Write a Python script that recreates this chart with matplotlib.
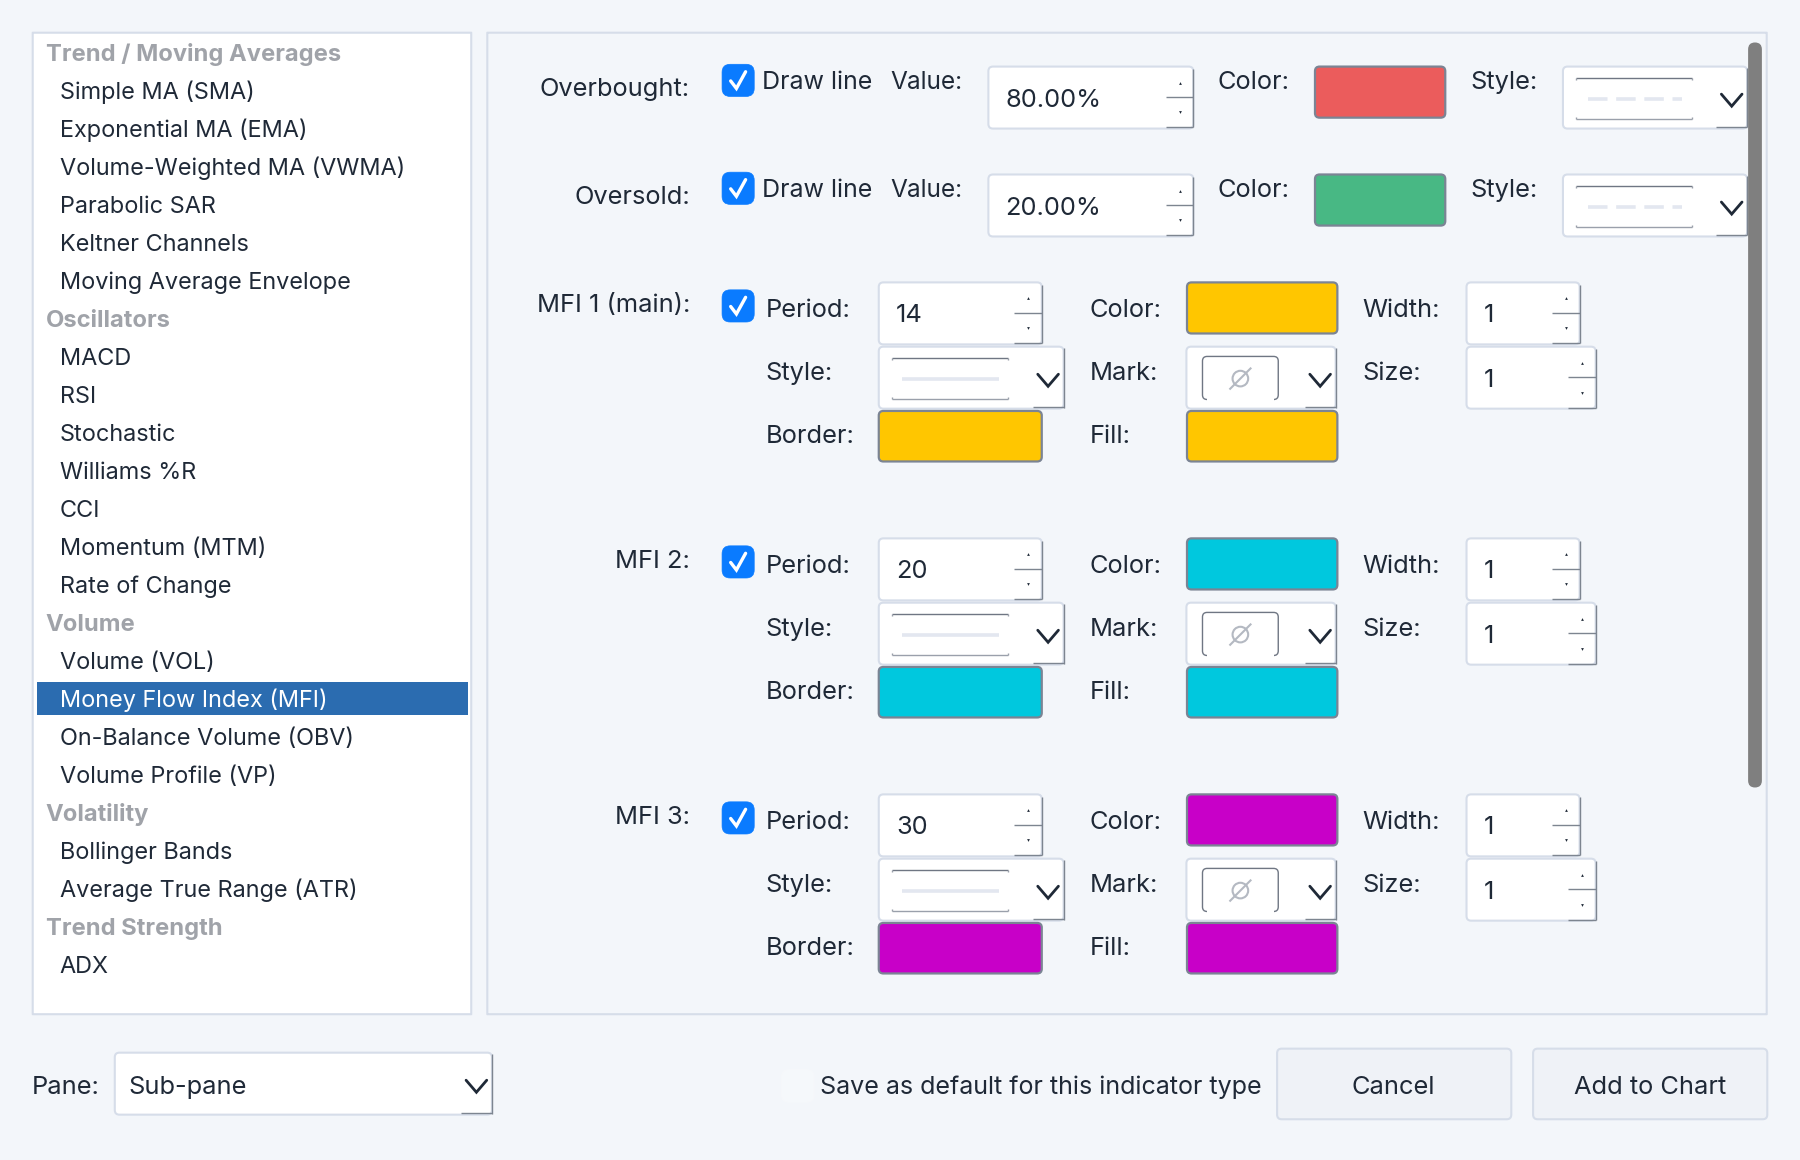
import matplotlib
matplotlib.use('Agg')
import matplotlib.pyplot as plt
from matplotlib.patches import FancyBboxPatch, Rectangle, Circle

# list on the left
groups = ['Trend / Moving Averages', 'Oscillators', 'Volume', 'Volatility', 'Trend Strength']
group_items = [
    ['Simple MA (SMA)', 'Exponential MA (EMA)', 'Volume-Weighted MA (VWMA)', 'Parabolic SAR',
     'Keltner Channels', 'Moving Average Envelope'],
    ['MACD', 'RSI', 'Stochastic', 'Williams %R', 'CCI', 'Momentum (MTM)', 'Rate of Change'],
    ['Volume (VOL)', 'Money Flow Index (MFI)', 'On-Balance Volume (OBV)', 'Volume Profile (VP)'],
    ['Bollinger Bands', 'Average True Range (ATR)'],
    ['ADX'],
]
selected = 'Money Flow Index (MFI)'

# overbought / oversold
level_names = ['Overbought:', 'Oversold:']
level_values = ['80.00%', '20.00%']
level_colors = ['#eb5c5c', '#48b884']

# mfi rows
mfi_names = ['MFI 1 (main):', 'MFI 2:', 'MFI 3:']
mfi_periods = ['14', '20', '30']
mfi_widths = ['1', '1', '1']
mfi_sizes = ['1', '1', '1']
mfi_colors = ['#ffc600', '#00c8de', '#c800c8']

pane_value = 'Sub-pane'
save_label = 'Save as default for this indicator type'
buttons = ['Cancel', 'Add to Chart']

BG = '#f3f6fa'
EDGE = '#d6dde9'
INK = '#1f2937'
GREY = '#a0a3a9'
STEP = '#7d8590'
BLUE = '#0a7bff'
SWATCH = '#7b8494'

plt.rcParams['font.family'] = ['Inter', 'DejaVu Sans']
FS_LIST = 16.9
FS = 18.3

fig = plt.figure(figsize=(18, 11.6), dpi=100, facecolor=BG)
ax = fig.add_axes([0, 0, 1, 1])
ax.set_xlim(0, 1568)
ax.set_ylim(1010.5, 0)
ax.axis('off')


def box(x0, y0, x1, y1, fc='white', ec=EDGE, lw=1.5, r=4, z=2):
    p = FancyBboxPatch((x0 + r, y0 + r), x1 - x0 - 2 * r, y1 - y0 - 2 * r,
                       boxstyle='round,pad=%g,rounding_size=%g' % (r, r),
                       fc=fc, ec=ec, lw=lw, zorder=z)
    ax.add_patch(p)


def line(xs, ys, c=STEP, lw=1.0, z=3):
    ax.plot(xs, ys, color=c, lw=lw, zorder=z, solid_capstyle='butt')


def txt(x, y, s, ha='left', c=INK, weight='normal', fs=FS):
    # y is the middle of the capitals
    ax.text(x, y + 0.43 * fs, s, ha=ha, va='baseline', color=c, fontweight=weight, fontsize=fs, zorder=5)


def chevron(xc, y0, y1, half):
    ax.plot([xc - half, xc, xc + half], [y0, y1, y0], color=INK, lw=2.0, zorder=4,
            solid_joinstyle='miter', solid_capstyle='round')


def spin(x0, y0, x1, value, step=24):
    y1 = y0 + 54
    box(x0, y0, x1, y1)
    xs = x1 - step
    mid = y0 + 26.5
    bot = y0 + 53
    line([x1, x1], [y0 + 2, bot])
    line([xs, x1], [mid, mid])
    line([xs, x1], [bot, bot])
    xd = x1 - 12
    ax.plot([xd], [y0 + 14], marker='^', ms=2.0, mew=0, color=INK, zorder=4)
    ax.plot([xd], [y0 + 40], marker='v', ms=2.0, mew=0, color=INK, zorder=4)
    txt(x0 + 15, y0 + 27, value)


def combo(x0, y0, x1, preview, wchev=27):
    y1 = y0 + 54
    box(x0, y0, x1, y1)
    line([x1, x1], [y0 + 1, y1 - 1])
    line([x1 - wchev, x1], [y1 - 1.5, y1 - 1.5])
    chevron(x1 - 13.5, y0 + 24, y0 + 34.5, 9)
    if preview is None:
        return
    px0 = x0 + 11.5
    px1 = px0 + 101
    top = y0 + 10
    low = y0 + 46
    line([px0, px1], [top, top], c='#6f7683')
    line([px0, px1], [low, low], c='#9aa0ab')
    line([px0, px0], [top, top + 2], c='#9aa0ab')
    line([px0, px0], [low - 2, low], c='#9aa0ab')
    line([px1, px1], [top, top + 2], c='#9aa0ab')
    line([px1, px1], [low - 2, low], c='#9aa0ab')
    if preview == 'dash':
        ax.plot([px0 + 10, px1 - 9], [y0 + 28, y0 + 28], color='#e3e7f0', lw=2.6, zorder=3,
                dashes=(5.4, 2.4), dash_capstyle='butt')
    else:
        line([px0 + 9, px1 - 8], [y0 + 28, y0 + 28], c='#e3e7f0', lw=2.6)


def mark_combo(x0, y0, x1):
    combo(x0, y0, x1, None)
    box(x0 + 14, y0 + 8.5, x0 + 80, y0 + 46, fc='white', ec='#6f7683', lw=1.0, r=4, z=3)
    ax.add_patch(Rectangle((x0 + 18, y0 + 40), 58, 8, fc='white', ec='none', zorder=3.5))
    # "no marker" icon
    cx, cy = x0 + 47, y0 + 27.8
    ax.add_patch(Circle((cx, cy), 6.8, fc='none', ec='#b4b9c2', lw=1.5, zorder=4))
    line([cx - 9.5, cx + 9.5], [cy + 9.5, cy - 9.5], c='#b4b9c2', lw=1.5, z=4)


def check(x0, y0):
    box(x0, y0, x0 + 28, y0 + 28, fc=BLUE, ec=BLUE, lw=0.5, r=7)
    ax.plot([x0 + 7.5, x0 + 12.5, x0 + 20.5], [y0 + 14.5, y0 + 21, y0 + 6.5], color='white',
            lw=2.4, zorder=4, solid_capstyle='round', solid_joinstyle='miter')


# ---- left list
box(28.5, 28.5, 410.5, 883.5, r=0.1)
y = 45.5
pitch = 33.1
for g, items in zip(groups, group_items):
    txt(40, y, g, c=GREY, weight='bold', fs=17.1)
    y += pitch
    for it in items:
        if it == selected:
            ax.add_patch(Rectangle((32, y - 14.5), 376, 29.5, fc='#2b6cb0', ec='none', zorder=3))
            txt(52, y, it, c='white', fs=FS_LIST)
        else:
            txt(52, y, it, fs=FS_LIST)
        y += pitch

# ---- right panel
box(424.5, 28.5, 1539, 883.5, fc=BG, r=0.1)

for i in range(len(level_names)):
    top = 58 + 94 * i
    txt(601, top + 18, level_names[i], ha='right')
    check(629, top - 2)
    txt(664, top + 12, 'Draw line', fs=18.0)
    txt(776, top + 12, 'Value:', fs=17.6)
    spin(861, top, 1039.5, level_values[i])
    txt(1061, top + 12, 'Color:')
    box(1145.5, top, 1259, top + 44.5, fc=level_colors[i], ec=SWATCH, lw=1.6)
    txt(1280.5, top + 12, 'Style:')
    combo(1361.5, top, 1522, 'dash')

for i in range(len(mfi_names)):
    top = 246 + 223 * i
    txt(601, top + 18, mfi_names[i], ha='right')
    check(629, top + 6.5)
    txt(667, top + 22, 'Period:')
    spin(765.5, top, 907.5, mfi_periods[i])
    txt(949.5, top + 22, 'Color:')
    box(1034, top, 1165, top + 44.5, fc=mfi_colors[i], ec=SWATCH, lw=1.6)
    txt(1186.5, top + 22, 'Width:')
    spin(1277.5, top, 1376, mfi_widths[i])

    txt(667, top + 77.5, 'Style:')
    combo(765.5, top + 56, 926.5, 'solid')
    txt(949.5, top + 77.5, 'Mark:')
    mark_combo(1033.5, top + 56, 1163.5)
    txt(1186.5, top + 77.5, 'Size:')
    spin(1277.5, top + 56, 1390, mfi_sizes[i])

    txt(667, top + 132, 'Border:')
    box(765.5, top + 112, 907.5, top + 156, fc=mfi_colors[i], ec=SWATCH, lw=1.6)
    txt(949.5, top + 132, 'Fill:')
    box(1034, top + 112, 1165, top + 156, fc=mfi_colors[i], ec=SWATCH, lw=1.6)

# scrollbar sits over the combos
box(1522.8, 37, 1534.8, 686, fc='#7f7f7f', ec='none', lw=0, r=6, z=6)

# ---- bottom row
txt(28, 945, 'Pane:')
combo(100, 917, 428.5, None, wchev=27)
txt(112, 945, pane_value)
box(681, 932, 709, 960, fc='#f5f8fb', ec='#f6f8fb', lw=0.8, r=6)
txt(714, 945, save_label, fs=18.05)
box(1112.5, 913.5, 1316.5, 975, fc='#eff2f7')
txt(1214, 945, buttons[0], ha='center')
box(1335.5, 913.5, 1539.5, 975, fc='#eff2f7')
txt(1437.5, 945, buttons[1], ha='center')

fig.savefig('out.png', dpi=100, facecolor=BG)
